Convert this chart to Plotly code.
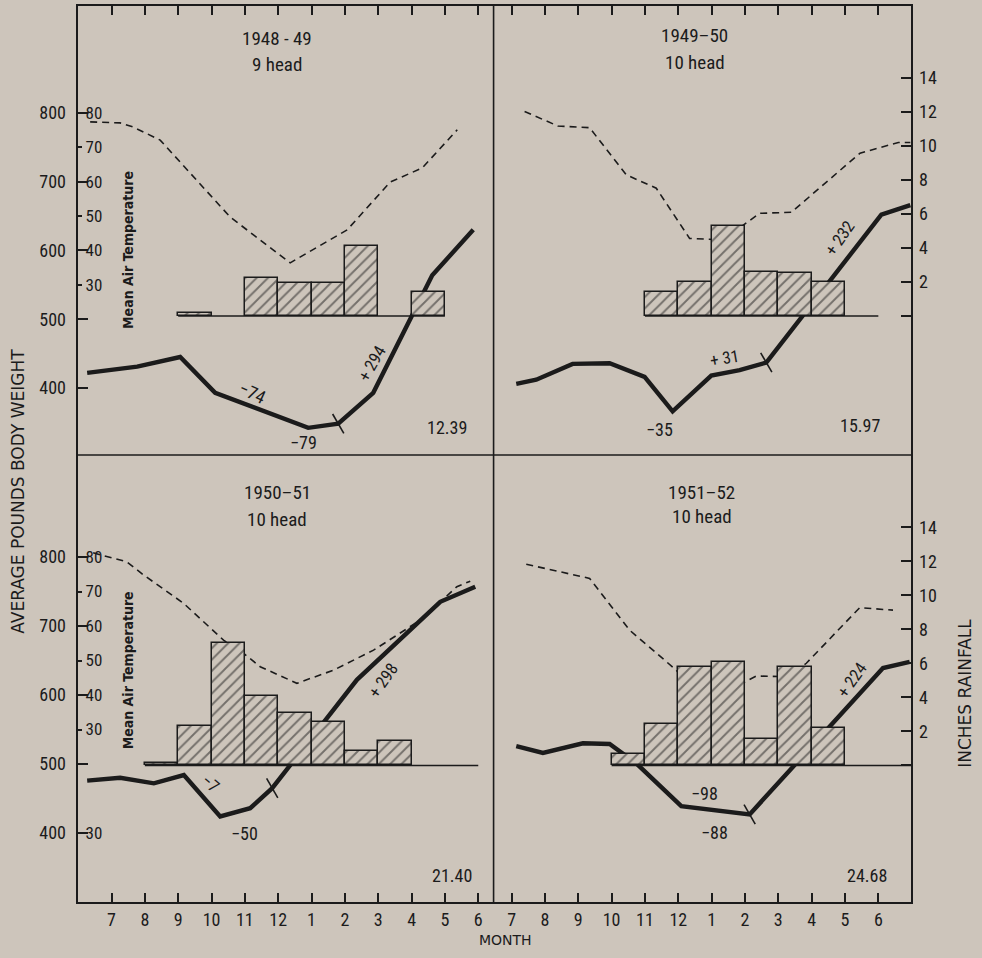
import plotly.graph_objects as go

BG = '#cdc5bb'
INK = '#1b1b1b'
FONT = 'Liberation Sans Narrow, Roboto Condensed, DejaVu Sans Condensed, Roboto, Liberation Sans, sans-serif'
WIDE = 'DejaVu Sans, Verdana, sans-serif'

# ---- month axis (two 12-month seasons side by side) ----
month_pos = list(range(1, 25))
month_labels = ['7', '8', '9', '10', '11', '12', '1', '2', '3', '4', '5', '6'] * 2
season_divider = 12.46

# ---- 1948-49 (top left) ----
w48_x = [0.27, 1.77, 3.06, 4.11, 6.9, 7.8, 8.85, 10.62, 11.85]
w48_lb = [422, 431, 445, 393, 342, 348, 393, 564, 630]
t48_x = [0.36, 1.26, 1.65, 2.46, 4.56, 6.36, 8.07, 9.36, 10.32, 11.37]
t48_f = [77.4, 77.1, 75.9, 72.1, 49.7, 36.4, 46.0, 59.9, 64.0, 75.1]
r48_x = [3.5, 5.5, 6.5, 7.5, 8.5, 10.5]
r48_in = [0.15, 2.22, 1.96, 1.92, 4.14, 1.43]
r48_base = [3.0, 11.0]
m48_x, m48_lb = [7.8], [348]

# ---- 1949-50 (top right) ----
w49_x = [13.14, 13.74, 14.83, 15.94, 16.99, 17.83, 18.99, 19.84, 20.64, 24.09, 24.96]
w49_lb = [406, 412, 435, 436, 416, 366, 418, 426, 437, 652, 666]
t49_x = [13.39, 14.39, 15.34, 16.44, 17.34, 18.34, 19.34, 20.44, 21.39, 23.45, 24.6, 24.96]
t49_f = [80.4, 76.2, 75.7, 62.0, 58.1, 43.5, 43.1, 50.8, 51.1, 68.3, 71.4, 71.4]
r49_x = [17.5, 18.5, 19.5, 20.5, 21.5, 22.5]
r49_in = [1.43, 2.02, 5.29, 2.61, 2.51, 2.02]
r49_base = [17.0, 24.0]
m49_x, m49_lb = [20.64], [437]

# ---- 1950-51 (bottom left) ----
w50_x = [0.27, 1.26, 2.27, 3.17, 4.26, 5.16, 5.82, 8.36, 10.86, 11.91]
w50_lb = [476, 480, 472, 484, 424, 436, 465, 622, 735, 757]
t50_x = [0.45, 0.86, 1.46, 1.96, 3.16, 4.36, 4.96, 5.46, 6.56, 7.66, 8.86, 10.26, 11.36, 11.76]
t50_f = [81.2, 80.1, 78.6, 74.8, 66.6, 55.9, 52.1, 48.2, 43.4, 47.2, 53.0, 61.7, 71.4, 73.0]
r50_x = [2.5, 3.5, 4.5, 5.5, 6.5, 7.5, 8.5, 9.5]
r50_in = [0.15, 2.32, 7.22, 4.11, 3.07, 2.54, 0.85, 1.44]
r50_base = [2.0, 12.0]
m50_x, m50_lb = [5.82], [465]

# ---- 1951-52 (bottom right) ----
w51_x = [13.14, 13.94, 15.14, 15.94, 16.74, 18.09, 20.14, 24.14, 24.94]
w51_lb = [526, 516, 530, 529, 501, 439, 427, 639, 648]
t51_x = [13.44, 15.34, 16.54, 17.94, 18.34, 19.54, 20.34, 21.34, 21.84, 23.44, 24.44]
t51_f = [77.9, 73.8, 58.8, 47.2, 42.2, 41.6, 45.5, 45.3, 49.2, 65.3, 64.6]
r51_x = [16.5, 17.5, 18.5, 19.5, 20.5, 21.5, 22.5]
r51_in = [0.68, 2.44, 5.78, 6.09, 1.58, 5.81, 2.19]
r51_base = [16.0, 25.0]
m51_x, m51_lb = [20.14], [427]

# ---- axis ticks ----
weight_ticks = [400, 500, 600, 700, 800]
temp_ticks = [30, 40, 50, 60, 70, 80]
rain_ticks = [0, 2, 4, 6, 8, 10, 12, 14]
rain_ticktext = ['', '2', '4', '6', '8', '10', '12', '14']

X_RANGE = [-0.035, 25.01]
W1 = [302.5, 957.0]
W2 = [298.6, 947.8]
R1 = [-8.18, 18.29]
R2 = [-8.09, 18.26]


def temp_range(wr):
    # temperature scale: 80 F at 800 lb, 20 F per 100 lb
    return [(wr[0] - 400) / 5.0, (wr[1] - 400) / 5.0]


fig = go.Figure()


def add_panel(xa, ya_w, ya_t, ya_r, wx, wy, tx, ty, rx, ry, rbase, mx, my):
    fig.add_trace(go.Bar(x=rx, y=ry, width=1.0, xaxis=xa, yaxis=ya_r,
                         marker=dict(color=BG, line=dict(color=INK, width=1.5),
                                     pattern=dict(shape='/', fgcolor=INK, bgcolor=BG,
                                                  size=8, solidity=0.24)),
                         showlegend=False, hoverinfo='skip'))
    fig.add_trace(go.Scatter(x=rbase, y=[0, 0], xaxis=xa, yaxis=ya_r, mode='lines',
                             line=dict(color=INK, width=1.6), showlegend=False, hoverinfo='skip'))
    fig.add_trace(go.Scatter(x=tx, y=ty, xaxis=xa, yaxis=ya_t, mode='lines',
                             line=dict(color=INK, width=1.6, dash='7px,5px'),
                             showlegend=False, hoverinfo='skip'))
    fig.add_trace(go.Scatter(x=wx, y=wy, xaxis=xa, yaxis=ya_w, mode='lines',
                             line=dict(color=INK, width=4.4), showlegend=False, hoverinfo='skip'))
    fig.add_trace(go.Scatter(x=mx, y=my, xaxis=xa, yaxis=ya_w, mode='markers',
                             marker=dict(symbol='line-ns', size=16, angle=-30,
                                         line=dict(color=INK, width=1.6)),
                             showlegend=False, hoverinfo='skip'))


add_panel('x', 'y', 'y2', 'y3', w48_x, w48_lb, t48_x, t48_f, r48_x, r48_in, r48_base, m48_x, m48_lb)
add_panel('x', 'y', 'y2', 'y3', w49_x, w49_lb, t49_x, t49_f, r49_x, r49_in, r49_base, m49_x, m49_lb)
add_panel('x2', 'y4', 'y5', 'y6', w50_x, w50_lb, t50_x, t50_f, r50_x, r50_in, r50_base, m50_x, m50_lb)
add_panel('x2', 'y4', 'y5', 'y6', w51_x, w51_lb, t51_x, t51_f, r51_x, r51_in, r51_base, m51_x, m51_lb)

split = 448.0 / 898.0
tickfont = dict(family=FONT, size=18, color=INK)
common = dict(showgrid=False, zeroline=False, showline=False)

fig.update_layout(
    width=982, height=958,
    paper_bgcolor=BG, plot_bgcolor=BG,
    margin=dict(l=77, r=70, t=5, b=55),
    bargap=0, barmode='overlay',
    font=dict(family=FONT, color=INK),
    xaxis=dict(domain=[0, 1], anchor='y', range=X_RANGE, side='top',
               tickvals=month_pos, ticks='inside', ticklen=10, tickwidth=1.5,
               tickcolor=INK, showticklabels=False, **common),
    xaxis2=dict(domain=[0, 1], anchor='y4', range=X_RANGE, side='bottom',
                tickvals=month_pos, ticktext=month_labels, ticks='inside', ticklen=10,
                tickwidth=1.5, tickcolor=INK, tickfont=tickfont, ticklabelstandoff=4, **common),
    yaxis=dict(domain=[split, 1], anchor='x', range=W1, tickvals=weight_ticks,
               ticks='inside', ticklen=11, tickwidth=1.5, tickcolor=INK,
               tickfont=tickfont, ticklabelstandoff=10, **common),
    yaxis2=dict(overlaying='y', anchor='x', side='left', range=temp_range(W1),
                tickvals=temp_ticks, ticks='inside', ticklen=5, tickwidth=1.5, tickcolor=INK,
                ticklabelposition='inside', tickfont=dict(family=FONT, size=17, color=INK),
                ticklabelstandoff=4, **common),
    yaxis3=dict(overlaying='y', anchor='x', side='right', range=R1, tickvals=rain_ticks,
                ticktext=rain_ticktext, ticks='inside', ticklen=11, tickwidth=1.5,
                tickcolor=INK, tickfont=tickfont, ticklabelstandoff=6, **common),
    yaxis4=dict(domain=[0, split], anchor='x2', range=W2, tickvals=weight_ticks,
                ticks='inside', ticklen=11, tickwidth=1.5, tickcolor=INK,
                tickfont=tickfont, ticklabelstandoff=10, **common),
    yaxis5=dict(overlaying='y4', anchor='x2', side='left', range=temp_range(W2),
                tickvals=[0] + temp_ticks, ticktext=['30'] + [str(t) for t in temp_ticks],
                ticks='inside', ticklen=5, tickwidth=1.5, tickcolor=INK,
                ticklabelposition='inside', tickfont=dict(family=FONT, size=17, color=INK),
                ticklabelstandoff=4, **common),
    yaxis6=dict(overlaying='y4', anchor='x2', side='right', range=R2, tickvals=rain_ticks,
                ticktext=rain_ticktext, ticks='inside', ticklen=11, tickwidth=1.5,
                tickcolor=INK, tickfont=tickfont, ticklabelstandoff=6, **common),
)

# frame, mid line and season divider
fig.add_shape(type='rect', xref='paper', yref='paper', x0=0, x1=1, y0=0, y1=1,
              line=dict(color=INK, width=2))
fig.add_shape(type='line', xref='paper', yref='paper', x0=0, x1=1, y0=split, y1=split,
              line=dict(color=INK, width=1.6))
fig.add_shape(type='line', xref='x', yref='paper', x0=season_divider, x1=season_divider,
              y0=0, y1=1, line=dict(color=INK, width=1.6))

anns = []


def txt(x, y, s, xr, yr, size=16, angle=0):
    anns.append(dict(x=x, y=y, xref=xr, yref=yr, text=s, showarrow=False, textangle=angle,
                     xanchor='center', yanchor='middle',
                     font=dict(family=FONT, size=size, color=INK)))


# titles
txt(5.97, 909, '1948 - 49', 'x', 'y', 19)
txt(5.97, 870, '9 head', 'x', 'y', 19)
txt(18.49, 913, '1949–50', 'x', 'y', 19)
txt(18.49, 874, '10 head', 'x', 'y', 19)
txt(5.97, 893, '1950–51', 'x2', 'y4', 19)
txt(5.97, 855, '10 head', 'x2', 'y4', 19)
txt(18.7, 894, '1951–52', 'x2', 'y4', 19)
txt(18.7, 858, '10 head', 'x2', 'y4', 19)

# gain / loss labels
txt(5.22, 393, '−74', 'x', 'y', 18, 25)
txt(6.75, 320, '−79', 'x', 'y', 18)
txt(8.82, 436, '+ 294', 'x', 'y', 17, -60)
txt(19.4, 444, '+ 31', 'x', 'y', 17, -10)
txt(17.45, 339, '−35', 'x', 'y', 18)
txt(22.84, 618, '+ 232', 'x', 'y', 17, -55)
txt(3.96, 472, '−7', 'x2', 'y4', 17, 40)
txt(5.0, 400, '−50', 'x2', 'y4', 18)
txt(9.15, 622, '+ 298', 'x2', 'y4', 17, -55)
txt(18.8, 458, '−98', 'x2', 'y4', 18)
txt(19.1, 401, '−88', 'x2', 'y4', 18)
txt(23.2, 622, '+ 224', 'x2', 'y4', 17, -55)

# seasonal rainfall totals
txt(11.07, 343, '12.39', 'x', 'y', 18)
txt(23.44, 346, '15.97', 'x', 'y', 18)
txt(11.2, 338, '21.40', 'x2', 'y4', 18)
txt(23.67, 338, '24.68', 'x2', 'y4', 18)

# inner temperature axis titles
for xr, yr, yy in [('x', 'y', 601), ('x2', 'y4', 636)]:
    anns.append(dict(x=1.5, y=yy, xref=xr, yref=yr, text='<b>Mean Air Temperature</b>',
                     showarrow=False, textangle=-90, xanchor='center', yanchor='middle',
                     font=dict(family='DejaVu Sans Condensed, DejaVu Sans, sans-serif',
                               size=14, color=INK)))

# outer axis titles
anns.append(dict(x=-0.0707, y=0.459, xref='paper', yref='paper', xanchor='center',
                 yanchor='middle', text='AVERAGE POUNDS BODY WEIGHT', showarrow=False,
                 textangle=-90, font=dict(family=WIDE, size=17, color=INK)))
anns.append(dict(x=1.0635, y=0.233, xref='paper', yref='paper', xanchor='center',
                 yanchor='middle', text='INCHES RAINFALL', showarrow=False, textangle=-90,
                 font=dict(family=WIDE, size=17, color=INK)))
anns.append(dict(x=0.5126, y=-0.0412, xref='paper', yref='paper', xanchor='center',
                 yanchor='middle', text='MONTH', showarrow=False,
                 font=dict(family=WIDE, size=14, color=INK)))

fig.update_layout(annotations=anns)
fig.write_html('out.html', config={'displayModeBar': False},
               post_script="document.body.style.margin='0';document.body.style.overflow='hidden';")
